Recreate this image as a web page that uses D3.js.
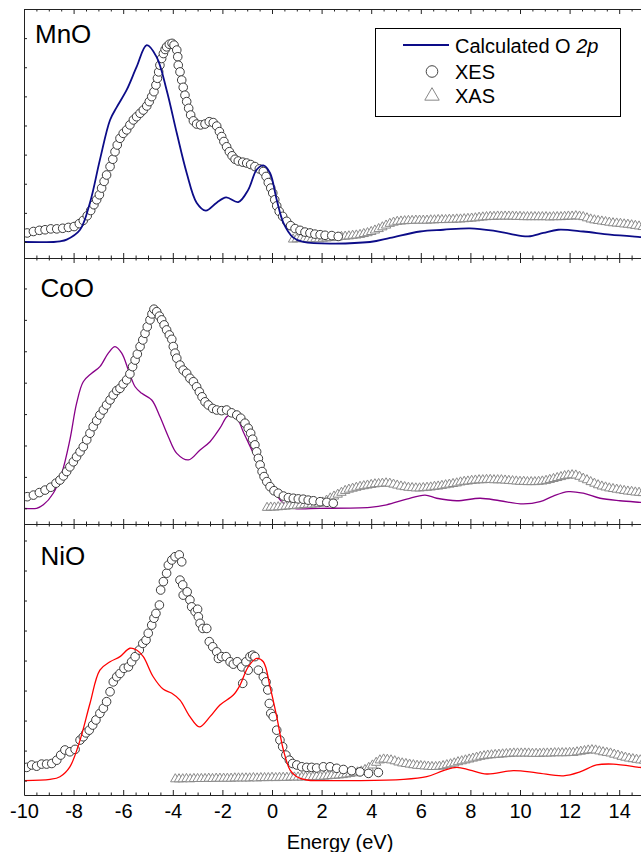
<!DOCTYPE html>
<html>
<head>
<meta charset="utf-8">
<script src="https://cdn.jsdelivr.net/npm/d3@7"></script>
<style>
  body { margin: 0; background: #fff; }
  svg { display: block; }
  text { font-family: "Liberation Sans", Arial, sans-serif; fill: #000; }
</style>
</head>
<body>
<div id="content"></div>
<script>
const width = 641;
const height = 852;

// x axis (energy, eV)
const xMajor = [-10, -8, -6, -4, -2, 0, 2, 4, 6, 8, 10, 12, 14];
const xMinor = d3.range(-10, 15.01, 0.5).filter(v => v % 2 !== 0);

// calculated O 2p curves [E, intensity]
const calcMnO = [[-10,0],[-8.8,0],[-8.55,0.02],[-8.28,0.08],[-7.74,0.42],[-7.34,1.35],[-6.94,2.82],[-6.53,4.19],[-6.26,4.63],[-5.86,5.22],[-5.46,6.01],[-5.05,6.76],[-4.65,6.35],[-4.25,5.22],[-3.84,3.74],[-3.44,2.37],[-3.04,1.35],[-2.67,1.08],[-2.23,1.35],[-1.85,1.53],[-1.36,1.37],[-0.96,1.79],[-0.62,2.48],[-0.35,2.63],[-0.08,2.37],[0.19,1.45],[0.46,0.66],[0.86,0.15],[1.26,0],[3.95,0],[4.76,0.14],[5.97,0.36],[6.91,0.42],[7.98,0.47],[8.92,0.39],[9.6,0.28],[10.33,0.19],[10.94,0.31],[11.54,0.42],[12.55,0.36],[13.63,0.25],[14.84,0.17],[15,0.16]];
const calcCoO = [[-10,0],[-9.49,0],[-9.22,0.11],[-8.82,0.48],[-8.48,1.11],[-8.15,2.18],[-7.88,3.34],[-7.61,4.03],[-7.27,4.30],[-6.94,4.51],[-6.60,4.94],[-6.33,5.15],[-6.06,4.94],[-5.79,4.40],[-5.52,3.87],[-5.25,3.66],[-4.85,3.45],[-4.52,2.92],[-4.18,2.28],[-3.84,1.75],[-3.37,1.54],[-2.90,1.86],[-2.50,2.12],[-2.10,2.55],[-1.76,2.95],[-1.42,2.87],[-1.16,2.44],[-0.75,1.75],[-0.35,1.11],[0.05,0.58],[0.46,0.16],[0.86,0],[1.94,0],[3.95,0.03],[4.62,0.11],[5.43,0.29],[6.17,0.42],[6.64,0.32],[7.45,0.24],[8.39,0.32],[9.19,0.24],[10.13,0.14],[10.81,0.21],[11.34,0.39],[11.95,0.53],[12.55,0.48],[13.23,0.32],[14.03,0.24],[14.84,0.19],[15,0.18]];
const calcNiO = [[-10,0],[-8.95,0.04],[-8.55,0.13],[-8.15,0.46],[-7.74,1.35],[-7.34,2.57],[-6.94,3.68],[-6.53,3.96],[-6.13,4.13],[-5.73,4.41],[-5.46,4.35],[-5.19,4.13],[-4.79,3.46],[-4.38,3.04],[-4.04,2.91],[-3.71,2.68],[-3.31,2.13],[-2.93,1.79],[-2.50,2.13],[-2.10,2.52],[-1.56,2.85],[-1.29,3.18],[-0.96,3.79],[-0.62,4.07],[-0.35,3.96],[-0.08,3.13],[0.19,2.13],[0.46,1.02],[0.73,0.35],[1.0,0.13],[1.40,0.02],[1.94,0],[5.30,0.04],[6.24,0.13],[6.91,0.33],[7.45,0.44],[7.98,0.35],[8.66,0.22],[9.73,0.33],[10.67,0.26],[11.75,0.16],[12.42,0.29],[13.09,0.52],[13.76,0.55],[14.84,0.44],[15,0.43]];

// XES (circles) [E, intensity]
const xesMnO = [[-9.87,0.31],[-9.62,0.36],[-9.38,0.40],[-9.15,0.42],[-8.92,0.45],[-8.68,0.45],[-8.44,0.47],[-8.21,0.50],[-7.98,0.53],[-7.77,0.63],[-7.61,0.74],[-7.45,0.90],[-7.31,1.08],[-7.18,1.28],[-7.07,1.45],[-6.96,1.62],[-6.87,1.85],[-6.77,2.08],[-6.67,2.30],[-6.53,2.59],[-6.42,2.84],[-6.33,3.10],[-6.24,3.33],[-6.13,3.56],[-6.00,3.73],[-5.86,3.85],[-5.73,4.02],[-5.59,4.19],[-5.46,4.30],[-5.32,4.42],[-5.19,4.53],[-5.05,4.67],[-4.95,4.82],[-4.85,4.99],[-4.76,5.16],[-4.68,5.39],[-4.62,5.62],[-4.57,5.84],[-4.52,6.07],[-4.45,6.30],[-4.38,6.47],[-4.31,6.61],[-4.25,6.70],[-4.14,6.79],[-4.03,6.82],[-3.95,6.76],[-3.84,6.59],[-3.80,6.36],[-3.78,6.07],[-3.71,5.84],[-3.64,5.56],[-3.58,5.31],[-3.51,5.04],[-3.44,4.82],[-3.36,4.59],[-3.28,4.36],[-3.17,4.16],[-3.04,4.05],[-2.88,4.02],[-2.70,4.05],[-2.53,4.13],[-2.37,4.10],[-2.23,3.98],[-2.12,3.79],[-2.03,3.62],[-1.94,3.45],[-1.83,3.27],[-1.72,3.10],[-1.61,2.96],[-1.49,2.84],[-1.36,2.78],[-1.18,2.74],[-1.02,2.71],[-0.86,2.66],[-0.69,2.59],[-0.51,2.51],[-0.35,2.42],[-0.24,2.25],[-0.15,2.04],[-0.05,1.85],[0.03,1.68],[0.11,1.45],[0.19,1.24],[0.29,1.05],[0.43,0.88],[0.59,0.71],[0.75,0.56],[0.93,0.46],[1.13,0.40],[1.33,0.34],[1.53,0.31],[1.73,0.27],[1.94,0.25],[2.14,0.23],[2.41,0.22],[2.67,0.19]];
const xesCoO = [[-9.87,0.37],[-9.62,0.42],[-9.38,0.50],[-9.15,0.58],[-8.92,0.67],[-8.71,0.80],[-8.55,0.90],[-8.41,1.03],[-8.28,1.17],[-8.15,1.32],[-8.01,1.48],[-7.88,1.64],[-7.74,1.80],[-7.61,1.96],[-7.47,2.18],[-7.34,2.39],[-7.21,2.60],[-7.07,2.79],[-6.94,2.97],[-6.80,3.13],[-6.67,3.29],[-6.53,3.45],[-6.40,3.61],[-6.26,3.75],[-6.13,3.82],[-6.00,3.96],[-5.86,4.09],[-5.73,4.28],[-5.62,4.51],[-5.52,4.72],[-5.43,4.91],[-5.32,5.15],[-5.21,5.36],[-5.12,5.57],[-5.03,5.78],[-4.92,6.00],[-4.84,6.19],[-4.76,6.34],[-4.65,6.26],[-4.54,6.12],[-4.45,6.00],[-4.35,5.84],[-4.25,5.68],[-4.14,5.52],[-4.04,5.38],[-3.98,5.15],[-3.91,4.94],[-3.84,4.78],[-3.71,4.56],[-3.58,4.40],[-3.44,4.30],[-3.31,4.14],[-3.17,4.03],[-3.04,3.87],[-2.93,3.71],[-2.82,3.55],[-2.70,3.39],[-2.57,3.29],[-2.39,3.18],[-2.23,3.13],[-2.03,3.11],[-1.83,3.13],[-1.63,3.04],[-1.42,2.97],[-1.26,2.87],[-1.09,2.71],[-0.96,2.55],[-0.86,2.39],[-0.78,2.20],[-0.69,2.02],[-0.62,1.80],[-0.55,1.59],[-0.48,1.38],[-0.40,1.17],[-0.32,1.01],[-0.21,0.85],[-0.08,0.69],[0.08,0.56],[0.25,0.48],[0.46,0.39],[0.66,0.34],[0.86,0.32],[1.06,0.30],[1.26,0.29],[1.46,0.26],[1.67,0.24],[1.94,0.21],[2.21,0.19],[2.47,0.16]];
const xesNiO = [[-9.89,0.44],[-9.69,0.52],[-9.49,0.48],[-9.29,0.55],[-9.09,0.55],[-8.88,0.57],[-8.68,0.68],[-8.52,0.85],[-8.35,1.02],[-8.15,0.96],[-7.94,1.04],[-7.74,1.35],[-7.61,1.46],[-7.50,1.59],[-7.37,1.68],[-7.23,1.85],[-7.10,2.02],[-6.94,2.24],[-6.80,2.41],[-6.67,2.63],[-6.53,2.96],[-6.40,3.29],[-6.26,3.46],[-6.13,3.57],[-5.97,3.74],[-5.79,3.79],[-5.66,3.96],[-5.52,4.13],[-5.35,4.35],[-5.21,4.57],[-5.08,4.68],[-4.99,4.91],[-4.85,5.18],[-4.76,5.41],[-4.68,5.57],[-4.54,5.85],[-4.49,6.35],[-4.38,6.63],[-4.25,6.91],[-4.18,7.18],[-4.04,7.35],[-3.91,7.46],[-3.74,7.52],[-3.64,7.29],[-3.71,6.68],[-3.60,6.52],[-3.58,6.18],[-3.42,6.29],[-3.31,6.02],[-3.24,5.79],[-3.10,5.63],[-3.00,5.71],[-2.97,5.46],[-2.90,5.24],[-2.79,5.07],[-2.63,5.07],[-2.53,4.63],[-2.39,4.46],[-2.23,4.29],[-2.16,4.07],[-2.03,4.13],[-1.85,4.13],[-1.69,3.96],[-1.56,3.88],[-1.40,3.96],[-1.22,3.79],[-1.18,3.24],[-1.05,3.96],[-0.96,3.68],[-0.89,4.13],[-0.78,4.18],[-0.69,4.13],[-0.55,3.68],[-0.35,3.46],[-0.24,3.29],[-0.17,3.02],[-0.11,2.57],[-0.05,2.24],[0.05,2.13],[0.19,1.68],[0.32,1.35],[0.43,1.13],[0.56,0.85],[0.70,0.68],[0.83,0.57],[1.00,0.52],[1.20,0.46],[1.40,0.44],[1.60,0.44],[1.80,0.42],[2.07,0.46],[2.34,0.46],[2.61,0.41],[2.88,0.37],[3.21,0.33],[3.55,0.29],[3.89,0.24],[4.29,0.27]];

// XAS (triangles): first energy, step, intensities
const xasMnOStart = 0.85, xasMnOStep = 0.15;
const xasMnO = [.09,.10,.11,.10,.11,.10,.11,.10,.12,.13,.14,.15,.16,.18,.19,.20,.22,.23,.25,.28,.31,.35,.40,.45,.51,.57,.63,.67,.70,.71,.72,.73,.73,.74,.74,.74,.74,.75,.75,.76,.76,.76,.77,.77,.78,.78,.79,.80,.81,.82,.84,.85,.86,.87,.87,.88,.88,.88,.88,.88,.87,.87,.86,.86,.86,.86,.86,.86,.86,.85,.86,.86,.86,.87,.88,.88,.89,.88,.86,.82,.78,.75,.73,.71,.69,.67,.65,.64,.63,.61,.60,.58,.56,.54,.52];
const xasCoOStart = -0.2, xasCoOStep = 0.15;
const xasCoO = [.02,.03,.03,.04,.05,.06,.07,.08,.09,.10,.11,.12,.12,.13,.15,.19,.25,.32,.38,.44,.50,.56,.60,.63,.66,.69,.71,.73,.75,.77,.78,.79,.80,.79,.76,.73,.70,.68,.66,.65,.64,.64,.65,.66,.67,.69,.70,.72,.74,.76,.78,.80,.83,.85,.86,.88,.89,.90,.90,.91,.91,.90,.90,.90,.89,.88,.87,.86,.85,.85,.84,.84,.84,.85,.86,.88,.91,.94,.97,1.00,1.03,1.05,1.06,1.05,1.01,.95,.90,.84,.79,.74,.70,.67,.64,.62,.60,.58,.56,.54,.53,.51,.50,.49];
const xasNiOStart = -3.9, xasNiOStep = 0.15;
const xasNiO = [.05,.05,.05,.06,.05,.06,.06,.06,.06,.07,.06,.07,.07,.07,.07,.07,.08,.08,.08,.08,.08,.09,.08,.09,.09,.09,.10,.09,.10,.10,.10,.11,.11,.11,.11,.12,.12,.12,.13,.13,.14,.15,.16,.17,.18,.19,.21,.23,.25,.28,.31,.36,.43,.51,.60,.68,.71,.70,.68,.65,.61,.58,.56,.54,.52,.50,.49,.48,.47,.46,.46,.47,.49,.52,.55,.58,.62,.65,.68,.71,.74,.77,.80,.82,.84,.85,.86,.87,.88,.89,.90,.91,.91,.91,.91,.91,.90,.90,.90,.91,.91,.91,.92,.92,.92,.92,.93,.93,.95,.97,.99,1.01,1.02,1.01,.98,.95,.93,.91,.87,.84,.80,.77,.74,.72,.70,.68,.67];

const panels = [
  { name: 'MnO', top: 9, bottom: 258, yDomain: [-0.55, 8.0], yTicks: [0, 1, 2, 3, 4, 5, 6, 7],
    calc: calcMnO, xes: xesMnO, xas: xasMnO, xasStart: xasMnOStart, xasStep: xasMnOStep,
    color: '#0c0c88', lw: 1.8, lineOnTop: true, lx: 35, ly: 42.5 },
  { name: 'CoO', top: 258, bottom: 524, yDomain: [-0.5, 7.97], yTicks: [0, 1, 2, 3, 4, 5, 6, 7],
    calc: calcCoO, xes: xesCoO, xas: xasCoO, xasStart: xasCoOStart, xasStep: xasCoOStep,
    color: '#880088', lw: 1.3, lineOnTop: false, lx: 40.5, ly: 296.5 },
  { name: 'NiO', top: 524, bottom: 795, yDomain: [-0.48, 8.55], yTicks: [0, 1, 2, 3, 4, 5, 6, 7, 8],
    calc: calcNiO, xes: xesNiO, xas: xasNiO, xasStart: xasNiOStart, xasStep: xasNiOStep,
    color: '#ff0000', lw: 1.3, lineOnTop: true, lx: 40.5, ly: 565 }
];

const left = 24;
const x = d3.scaleLinear().domain([-10, 15]).range([left, 644]);

const svg = d3.select('#content')
  .append('svg')
  .attr('width', width)
  .attr('height', height);

svg.append('defs').append('clipPath').attr('id', 'plotclip')
  .append('rect').attr('x', left).attr('y', 9).attr('width', width - left).attr('height', 786);

const triangle = d3.symbol().type(d3.symbolTriangle).size(38);

panels.forEach((p, i) => {
  const y = d3.scaleLinear().domain(p.yDomain).range([p.bottom, p.top]);
  const g = svg.append('g').attr('clip-path', 'url(#plotclip)');

  const line = d3.line()
    .x(d => x(d[0]))
    .y(d => y(d[1]))
    .curve(d3.curveCatmullRom.alpha(0.5));

  const drawLine = () => g.append('path')
    .datum(p.calc)
    .attr('d', line)
    .attr('fill', 'none')
    .attr('stroke', p.color)
    .attr('stroke-width', p.lw);

  if (!p.lineOnTop) drawLine();

  const xasPts = p.xas.map((v, k) => [p.xasStart + k * p.xasStep, v]);
  g.append('g').selectAll('path')
    .data(xasPts)
    .enter()
    .append('path')
    .attr('d', triangle)
    .attr('transform', d => `translate(${x(d[0])},${y(d[1])})`)
    .attr('fill', '#fff')
    .attr('stroke', '#8a8a8a')
    .attr('stroke-width', 1);

  g.append('g').selectAll('circle')
    .data(p.xes)
    .enter()
    .append('circle')
    .attr('cx', d => x(d[0]))
    .attr('cy', d => y(d[1]))
    .attr('r', 4.3)
    .attr('fill', '#fff')
    .attr('stroke', '#3c3c3c')
    .attr('stroke-width', 1);

  if (p.lineOnTop) drawLine();

  // top axis (ticks inward)
  svg.append('g')
    .attr('transform', `translate(0,${p.top})`)
    .attr('color', '#222')
    .call(d3.axisTop(x).tickValues(xMajor).tickSize(-5).tickSizeOuter(0).tickFormat(''));
  svg.append('g')
    .attr('transform', `translate(0,${p.top})`)
    .attr('color', '#222')
    .call(d3.axisTop(x).tickValues(xMinor).tickSize(-2.5).tickSizeOuter(0).tickFormat(''))
    .call(a => a.select('.domain').remove());

  // bottom axis (ticks inward)
  const last = i === panels.length - 1;
  const bottomAxis = svg.append('g')
    .attr('transform', `translate(0,${p.bottom})`)
    .attr('color', '#222')
    .call(d3.axisBottom(x).tickValues(xMajor).tickSize(-5).tickSizeOuter(0).tickPadding(9)
      .tickFormat(last ? (d => String(d)) : ''));
  bottomAxis.selectAll('text')
    .style('font-family', '"Liberation Sans", Arial, sans-serif')
    .style('font-size', '20px')
    .attr('fill', '#000');
  svg.append('g')
    .attr('transform', `translate(0,${p.bottom})`)
    .attr('color', '#222')
    .call(d3.axisBottom(x).tickValues(xMinor).tickSize(-2.5).tickSizeOuter(0).tickFormat(''))
    .call(a => a.select('.domain').remove());

  // left axis (unlabelled, ticks inward)
  svg.append('g')
    .attr('transform', `translate(${left},0)`)
    .attr('color', '#222')
    .call(d3.axisRight(y).tickValues(p.yTicks).tickSize(3).tickSizeOuter(0).tickFormat(''));

  svg.append('text')
    .attr('x', p.lx)
    .attr('y', p.ly)
    .style('font-size', '26px')
    .text(p.name);
});

// axis title
svg.append('text')
  .attr('x', 340)
  .attr('y', 849)
  .attr('text-anchor', 'middle')
  .style('font-size', '20px')
  .text('Energy (eV)');

// legend
const legend = svg.append('g');
legend.append('rect')
  .attr('x', 375.5).attr('y', 28.5).attr('width', 245).attr('height', 88)
  .attr('fill', '#fff').attr('stroke', '#000').attr('stroke-width', 1);
legend.append('line')
  .attr('x1', 403).attr('x2', 449).attr('y1', 45).attr('y2', 45)
  .attr('stroke', panels[0].color).attr('stroke-width', 1.8);
const calcLabel = legend.append('text').attr('x', 455).attr('y', 53).style('font-size', '20px');
calcLabel.append('tspan').text('Calculated O ');
calcLabel.append('tspan').style('font-style', 'italic').text('2p');
legend.append('circle')
  .attr('cx', 432).attr('cy', 71.5).attr('r', 5.8)
  .attr('fill', '#fff').attr('stroke', '#444').attr('stroke-width', 1);
legend.append('text').attr('x', 455).attr('y', 78.5).style('font-size', '20px').text('XES');
legend.append('path')
  .attr('d', d3.symbol().type(d3.symbolTriangle).size(90))
  .attr('transform', 'translate(432,96)')
  .attr('fill', '#fff').attr('stroke', '#888').attr('stroke-width', 1);
legend.append('text').attr('x', 455).attr('y', 102.5).style('font-size', '20px').text('XAS');
</script>
</body>
</html>
